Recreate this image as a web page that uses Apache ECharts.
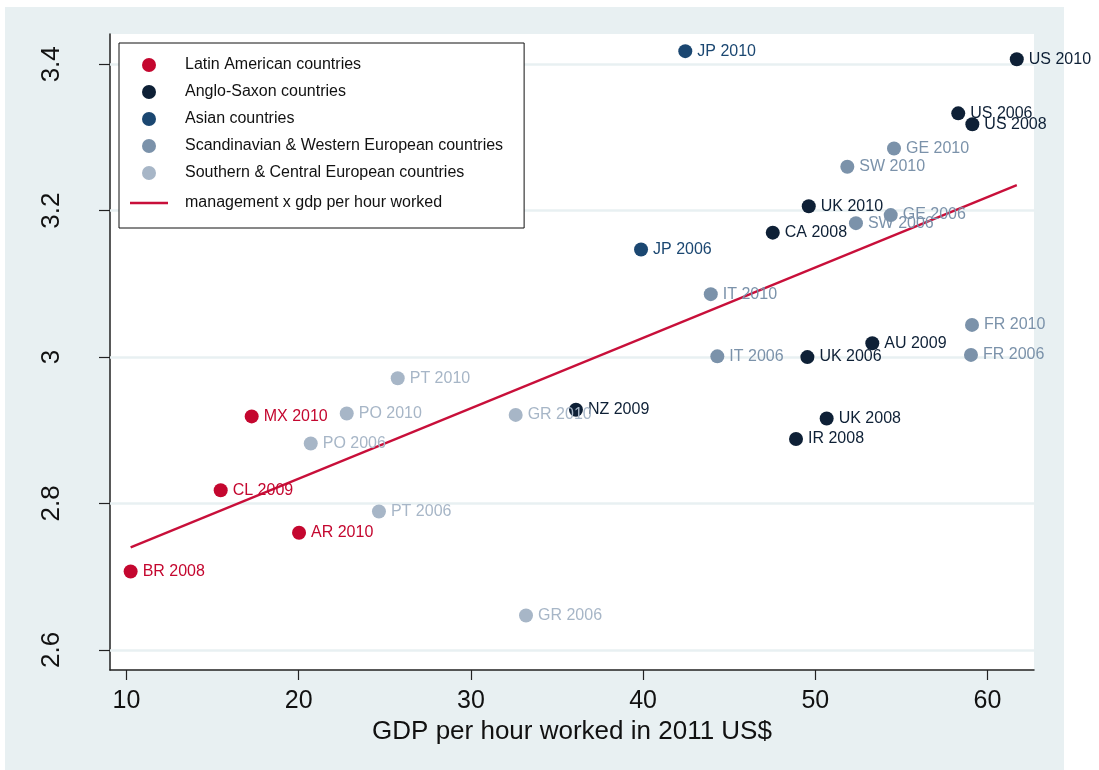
<!DOCTYPE html>
<html>
<head>
<meta charset="utf-8">
<script src="https://cdn.jsdelivr.net/npm/echarts@6/dist/echarts.min.js"></script>
<style>
  html, body { margin: 0; padding: 0; background: #ffffff; }
  #chart { width: 1099px; height: 770px; }
</style>
</head>
<body>
<div id="chart"></div>
<script>
// Country groups and their colours
const groups = [
  'Latin American countries',
  'Anglo-Saxon countries',
  'Asian countries',
  'Scandinavian & Western European countries',
  'Southern & Central European countries'
];
const groupColors = ['#c4072f', '#0e2036', '#1b4771', '#7b92aa', '#a7b6c7'];

// One entry per country-year
const pointLabels = [
  'BR 2008', 'CL 2009', 'AR 2010', 'MX 2010',
  'US 2010', 'US 2006', 'US 2008', 'UK 2010', 'CA 2008', 'AU 2009', 'UK 2006', 'UK 2008', 'IR 2008', 'NZ 2009',
  'JP 2010', 'JP 2006',
  'GE 2010', 'SW 2010', 'GE 2006', 'SW 2006', 'IT 2010', 'FR 2010', 'FR 2006', 'IT 2006',
  'PT 2010', 'PO 2010', 'GR 2010', 'PO 2006', 'PT 2006', 'GR 2006'
];
const gdpPerHour = [
  10.24, 15.47, 20.02, 17.27,
  61.70, 58.30, 59.12, 49.62, 47.53, 53.31, 49.54, 50.66, 48.88, 36.10,
  42.45, 39.88,
  54.57, 51.86, 54.38, 52.36, 43.93, 59.10, 59.04, 44.31,
  25.75, 22.79, 32.60, 20.70, 24.66, 33.20
];
const managementScore = [
  2.707, 2.818, 2.760, 2.919,
  3.407, 3.333, 3.318, 3.206, 3.170, 3.019, 3.000, 2.916, 2.888, 2.928,
  3.418, 3.147,
  3.285, 3.260, 3.194, 3.183, 3.086, 3.044, 3.003, 3.001,
  2.971, 2.923, 2.921, 2.882, 2.789, 2.647
];
const groupIndex = [
  0, 0, 0, 0,
  1, 1, 1, 1, 1, 1, 1, 1, 1, 1,
  2, 2,
  3, 3, 3, 3, 3, 3, 3, 3,
  4, 4, 4, 4, 4, 4
];

// Linear fit of management on GDP per hour worked (end points)
const fitName = 'management x gdp per hour worked';
const fitGdp = [10.24, 61.70];
const fitScore = [2.740, 3.235];
const fitColor = '#c80f3a';

// Axis ticks
const xTicks = [10, 20, 30, 40, 50, 60];
const yTicks = [2.6, 2.8, 3.0, 3.2, 3.4];

const FONT = '"Liberation Sans", Arial, Helvetica, sans-serif';

const scatterSeries = groups.map((g, gi) => ({
  name: g,
  type: 'scatter',
  z: 3,
  symbol: 'circle',
  symbolSize: 14,
  itemStyle: { color: groupColors[gi], opacity: 1 },
  label: {
    show: true,
    position: 'right',
    distance: 5,
    formatter: '{b}',
    color: groupColors[gi],
    fontFamily: FONT,
    fontSize: 16
  },
  emphasis: { disabled: true },
  data: pointLabels
    .map((lab, i) => ({ name: lab, value: [gdpPerHour[i], managementScore[i]], g: groupIndex[i] }))
    .filter(d => d.g === gi)
    .map(d => ({ name: d.name, value: d.value }))
}));

const legendTextStyle = { fontFamily: FONT, fontSize: 16, color: '#111111', padding: [0, 0, 0, 12], lineHeight: 18 };

const chart = echarts.init(document.getElementById('chart'), null, { renderer: 'canvas' });

chart.setOption({
  animation: false,
  backgroundColor: '#ffffff',
  graphic: [{
    type: 'rect',
    z: -10,
    shape: { x: 5, y: 7, width: 1059, height: 763 },
    style: { fill: '#e8f0f2' }
  }],
  grid: {
    left: 110, top: 34, right: 65, bottom: 100,
    show: true, backgroundColor: '#ffffff', borderWidth: 0
  },
  legend: {
    data: groups.map(g => ({ name: g })).concat([{
      name: fitName,
      icon: 'path://M0,0H38V2.4H0Z',
      textStyle: Object.assign({}, legendTextStyle, { padding: [3, 0, 3, 12] })
    }]),
    orient: 'vertical',
    left: 119, top: 43,
    padding: [13, 21, 13, 11],
    itemGap: 9,
    itemWidth: 38,
    itemHeight: 14,
    symbolKeepAspect: true,
    backgroundColor: '#ffffff',
    borderColor: '#111111',
    borderWidth: 1,
    borderRadius: 0,
    selectedMode: false,
    z: 10,
    textStyle: legendTextStyle
  },
  xAxis: {
    type: 'value',
    min: 9.042, max: 62.70,
    name: 'GDP per hour worked in 2011 US$',
    nameLocation: 'middle',
    nameGap: 45,
    nameTextStyle: { fontFamily: FONT, fontSize: 26, color: '#111111' },
    axisLine: { show: true, onZero: false, lineStyle: { color: '#222222', width: 1.5 } },
    axisTick: { show: true, length: 10, customValues: xTicks, lineStyle: { color: '#222222', width: 1.2 } },
    axisLabel: { customValues: xTicks, margin: 19, fontFamily: FONT, fontSize: 25, color: '#111111' },
    splitLine: { show: false }
  },
  yAxis: {
    type: 'value',
    min: 2.5725, max: 3.4414,
    axisLine: { show: true, onZero: false, lineStyle: { color: '#222222', width: 1.5 } },
    axisTick: { show: true, length: 11, customValues: yTicks, lineStyle: { color: '#222222', width: 1.2 } },
    axisLabel: { customValues: yTicks, rotate: 90, margin: 45, fontFamily: FONT, fontSize: 26, color: '#111111' },
    splitLine: { show: false }
  },
  series: [
    {
      // horizontal grid lines at the y ticks
      type: 'scatter',
      z: 1,
      silent: true,
      data: [],
      markLine: {
        z: 1,
        silent: true,
        symbol: ['none', 'none'],
        label: { show: false },
        lineStyle: { color: '#e8f0f2', width: 2.5, type: 'solid' },
        emphasis: { disabled: true },
        data: yTicks.map(v => ({ yAxis: v }))
      }
    },
    ...scatterSeries,
    {
      name: fitName,
      type: 'line',
      z: 2,
      symbol: 'none',
      showSymbol: false,
      lineStyle: { color: fitColor, width: 2.3 },
      itemStyle: { color: fitColor },
      emphasis: { disabled: true },
      data: fitGdp.map((x, i) => [x, fitScore[i]])
    }
  ]
});
</script>
</body>
</html>
